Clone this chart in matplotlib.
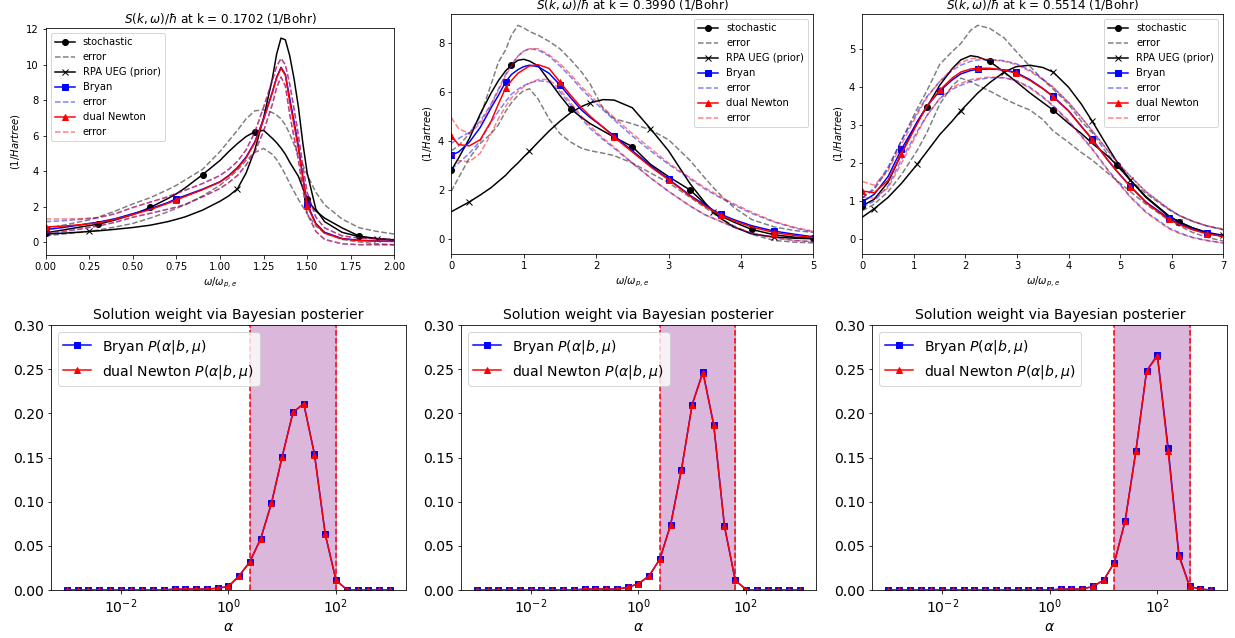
import numpy as np
import matplotlib.pyplot as plt

W, H, DPI = 1235, 638, 72

# ---- k = 0.1702 ----
w1 = [0, 0.1, 0.2, 0.25, 0.3, 0.4, 0.5, 0.6, 0.7, 0.75, 0.8, 0.9, 1.0, 1.05, 1.1, 1.15, 1.2,
      1.25, 1.3, 1.325, 1.35, 1.375, 1.4, 1.425, 1.45, 1.475, 1.5, 1.55, 1.6, 1.7, 1.8, 1.9, 2.0]
stoch1 = [0.52, 0.68, 0.85, 0.93, 1.0, 1.25, 1.55, 1.95, 2.45, 2.72, 3.05, 3.8, 4.6, 5.1, 5.55, 5.95,
          6.22, 6.3, 5.85, 5.6, 5.3, 4.95, 4.5, 4.1, 3.7, 3.05, 2.4, 1.75, 1.35, 0.8, 0.33, 0.2, 0.12]
stoch1_up = [0.75, 0.95, 1.15, 1.25, 1.4, 1.75, 2.15, 2.5, 2.95, 3.2, 3.5, 4.1, 5.1, 5.7, 6.3, 6.95,
             7.4, 7.45, 7.3, 7.15, 6.95, 6.6, 6.1, 5.5, 4.9, 4.35, 3.8, 2.8, 2.1, 1.3, 0.8, 0.6, 0.45]
stoch1_lo = [0.35, 0.45, 0.55, 0.6, 0.68, 0.85, 1.05, 1.35, 1.7, 1.9, 2.1, 2.6, 3.2, 3.6, 4.05, 4.6,
             5.05, 5.28, 4.95, 4.65, 4.25, 3.8, 3.3, 2.85, 2.4, 2.0, 1.6, 0.9, 0.5, 0.15, 0.0, -0.1, -0.15]
rpa1 = [0.45, 0.5, 0.56, 0.6, 0.63, 0.72, 0.82, 0.95, 1.15, 1.28, 1.42, 1.8, 2.3, 2.6, 3.0, 3.9,
        5.2, 7.0, 9.2, 10.6, 11.5, 11.4, 10.5, 9.2, 7.6, 5.6, 3.9, 1.85, 1.15, 0.55, 0.3, 0.18, 0.1]
bryan1 = [0.7, 0.82, 0.97, 1.05, 1.12, 1.32, 1.6, 1.88, 2.22, 2.45, 2.62, 2.98, 3.4, 3.75, 4.2, 4.8,
          5.65, 6.95, 8.45, 9.3, 9.85, 9.45, 8.1, 6.8, 5.4, 3.7, 2.15, 1.05, 0.55, 0.2, 0.1, 0.06, 0.04]
bryan1_up = [1.15, 1.2, 1.28, 1.32, 1.37, 1.6, 1.95, 2.25, 2.55, 2.75, 2.92, 3.3, 3.75, 4.1, 4.55, 5.2,
             6.2, 7.6, 9.1, 9.9, 10.35, 10.0, 8.9, 7.5, 6.0, 4.3, 2.8, 1.4, 0.8, 0.35, 0.22, 0.18, 0.15]
bryan1_lo = [0.45, 0.58, 0.73, 0.82, 0.9, 1.12, 1.4, 1.62, 1.85, 1.97, 2.12, 2.55, 3.02, 3.35, 3.75, 4.35,
             5.1, 6.25, 7.75, 8.7, 9.3, 8.8, 7.2, 5.9, 4.6, 3.0, 1.6, 0.6, 0.15, -0.1, -0.15, -0.15, -0.15]
dn1 = [0.85, 0.9, 0.98, 1.03, 1.08, 1.28, 1.55, 1.83, 2.18, 2.38, 2.57, 2.95, 3.38, 3.72, 4.15, 4.75,
       5.6, 6.9, 8.4, 9.25, 9.8, 9.4, 7.9, 6.6, 5.25, 3.6, 2.05, 1.0, 0.5, 0.18, 0.08, 0.05, 0.03]
dn1_up = [1.3, 1.3, 1.32, 1.35, 1.38, 1.6, 1.95, 2.25, 2.55, 2.75, 2.92, 3.3, 3.75, 4.1, 4.55, 5.2,
          6.2, 7.6, 9.1, 9.9, 10.35, 10.0, 8.9, 7.5, 6.0, 4.3, 2.8, 1.4, 0.8, 0.35, 0.22, 0.18, 0.15]
dn1_lo = [0.55, 0.62, 0.75, 0.83, 0.9, 1.12, 1.4, 1.62, 1.85, 1.97, 2.12, 2.55, 3.02, 3.35, 3.75, 4.35,
          5.1, 6.25, 7.75, 8.7, 9.3, 8.8, 7.2, 5.9, 4.6, 3.0, 1.6, 0.6, 0.15, -0.1, -0.15, -0.15, -0.15]

# ---- k = 0.3990 ----
w2 = [0, 0.1, 0.25, 0.4, 0.55, 0.65, 0.75, 0.83, 0.92, 1.0, 1.08, 1.2, 1.35, 1.5, 1.65, 1.8,
      1.92, 2.1, 2.25, 2.5, 2.75, 3.0, 3.3, 3.5, 3.62, 3.72, 3.9, 4.15, 4.46, 4.75, 5.0]
stoch2 = [2.8, 3.3, 4.1, 5.1, 5.95, 6.45, 6.85, 7.08, 7.28, 7.32, 7.25, 7.05, 6.45, 5.85, 5.3, 4.95,
          4.7, 4.4, 4.15, 3.77, 3.05, 2.55, 2.0, 1.45, 1.15, 0.95, 0.7, 0.4, 0.18, 0.08, 0.04]
stoch2_up = [3.6, 3.8, 4.3, 5.0, 6.3, 7.2, 7.7, 8.3, 8.7, 8.6, 8.45, 8.3, 8.05, 7.75, 7.3, 6.8,
             6.3, 5.3, 4.9, 4.7, 4.45, 4.05, 3.2, 2.5, 2.1, 1.8, 1.3, 0.8, 0.5, 0.35, 0.28]
stoch2_lo = [1.95, 2.5, 3.3, 3.9, 4.3, 4.65, 5.2, 5.55, 5.85, 6.05, 6.12, 5.7, 4.9, 4.3, 3.95, 3.7,
             3.6, 3.5, 3.4, 3.1, 2.7, 2.3, 1.7, 1.3, 1.05, 0.85, 0.55, 0.2, -0.05, -0.12, -0.15]
rpa2 = [1.12, 1.28, 1.52, 1.8, 2.1, 2.35, 2.6, 2.85, 3.1, 3.35, 3.58, 3.95, 4.4, 4.8, 5.15, 5.4,
        5.55, 5.68, 5.66, 5.35, 4.5, 3.6, 2.25, 1.5, 1.1, 0.85, 0.5, 0.22, 0.09, 0.04, 0.02]
bryan2 = [3.42, 3.55, 3.95, 4.55, 5.35, 5.85, 6.4, 6.7, 6.9, 7.02, 7.08, 7.02, 6.75, 6.28, 5.75, 5.25,
          4.95, 4.55, 4.2, 3.6, 3.0, 2.45, 1.78, 1.4, 1.18, 1.02, 0.8, 0.55, 0.33, 0.2, 0.1]
bryan2_up = [3.9, 4.1, 4.35, 4.8, 5.5, 6.1, 6.7, 7.1, 7.45, 7.65, 7.75, 7.7, 7.45, 7.05, 6.6, 6.1,
             5.75, 5.25, 4.85, 4.2, 3.6, 3.05, 2.45, 2.05, 1.85, 1.68, 1.4, 1.05, 0.7, 0.45, 0.3]
bryan2_lo = [2.85, 3.1, 3.5, 4.0, 4.75, 5.2, 5.6, 5.9, 6.1, 6.25, 6.35, 6.45, 6.4, 6.0, 5.45, 4.9,
             4.5, 4.05, 3.7, 3.1, 2.5, 1.95, 1.35, 1.0, 0.85, 0.72, 0.5, 0.25, 0.05, -0.05, -0.1]
dn2 = [4.2, 3.85, 3.8, 4.05, 4.8, 5.5, 6.15, 6.45, 6.75, 6.9, 7.05, 7.1, 6.95, 6.4, 5.85, 5.35,
       5.0, 4.55, 4.15, 3.55, 2.95, 2.42, 1.75, 1.35, 1.15, 0.98, 0.75, 0.5, 0.27, 0.15, 0.07]
dn2_up = [4.95, 4.5, 4.3, 4.7, 5.45, 6.05, 6.65, 7.05, 7.45, 7.65, 7.75, 7.75, 7.5, 7.15, 6.7, 6.2,
          5.85, 5.35, 4.95, 4.3, 3.7, 3.1, 2.5, 2.1, 1.9, 1.72, 1.45, 1.1, 0.72, 0.48, 0.32]
dn2_lo = [3.5, 3.2, 3.15, 3.5, 4.3, 4.9, 5.4, 5.75, 6.0, 6.2, 6.35, 6.5, 6.5, 6.1, 5.55, 5.0,
          4.6, 4.1, 3.75, 3.1, 2.5, 1.95, 1.35, 1.0, 0.85, 0.72, 0.5, 0.25, 0.05, -0.05, -0.1]

# ---- k = 0.5514 ----
w3 = [0, 0.23, 0.5, 0.76, 1.07, 1.25, 1.5, 1.75, 1.91, 2.1, 2.24, 2.47, 2.75, 2.98, 3.25,
      3.5, 3.7, 4.0, 4.25, 4.46, 4.75, 4.93, 5.2, 5.5, 5.94, 6.15, 6.4, 6.68, 7.0]
stoch3 = [0.88, 1.05, 1.5, 2.25, 3.1, 3.47, 4.05, 4.5, 4.72, 4.83, 4.8, 4.68, 4.4, 4.15, 3.85,
          3.6, 3.4, 3.05, 2.78, 2.52, 2.2, 1.96, 1.55, 1.12, 0.62, 0.45, 0.3, 0.17, 0.07]
stoch3_up = [1.1, 1.3, 1.85, 2.6, 3.45, 3.9, 4.6, 4.95, 5.15, 5.5, 5.63, 5.55, 5.3, 4.95, 4.55,
             4.2, 3.95, 3.55, 3.1, 2.8, 2.25, 1.95, 1.55, 1.2, 0.78, 0.62, 0.48, 0.35, 0.25]
stoch3_lo = [0.75, 0.92, 1.25, 1.7, 2.35, 2.8, 3.55, 4.05, 4.24, 4.15, 4.05, 3.9, 3.7, 3.55, 3.4,
             3.15, 2.85, 2.55, 2.28, 2.08, 1.75, 1.55, 1.25, 0.92, 0.5, 0.35, 0.18, 0.05, -0.05]
rpa3 = [0.58, 0.8, 1.1, 1.47, 1.98, 2.3, 2.75, 3.12, 3.38, 3.65, 3.85, 4.12, 4.4, 4.54, 4.58,
        4.52, 4.4, 4.0, 3.55, 3.1, 2.45, 2.05, 1.55, 1.1, 0.6, 0.45, 0.3, 0.18, 0.1]
bryan3 = [0.98, 1.18, 1.65, 2.37, 3.1, 3.5, 3.9, 4.2, 4.35, 4.44, 4.47, 4.48, 4.46, 4.39, 4.2,
          3.97, 3.76, 3.38, 2.97, 2.63, 2.1, 1.8, 1.39, 0.98, 0.55, 0.4, 0.27, 0.16, 0.08]
bryan3_up = [1.08, 1.35, 1.9, 2.6, 3.35, 3.75, 4.15, 4.45, 4.58, 4.68, 4.72, 4.73, 4.7, 4.62, 4.45,
             4.22, 4.0, 3.6, 3.2, 2.85, 2.35, 2.05, 1.65, 1.25, 0.8, 0.62, 0.47, 0.35, 0.25]
bryan3_lo = [0.85, 1.0, 1.4, 2.1, 2.85, 3.25, 3.7, 3.95, 4.05, 4.15, 4.2, 4.25, 4.25, 4.18, 4.0,
             3.75, 3.52, 3.12, 2.72, 2.38, 1.85, 1.55, 1.12, 0.72, 0.3, 0.17, 0.05, -0.03, -0.1]
dn3 = [1.27, 1.22, 1.55, 2.25, 3.05, 3.5, 3.92, 4.25, 4.4, 4.48, 4.5, 4.5, 4.45, 4.37, 4.18,
       3.96, 3.75, 3.37, 2.96, 2.62, 2.1, 1.8, 1.38, 0.96, 0.52, 0.38, 0.25, 0.14, 0.07]
dn3_up = [1.52, 1.42, 1.8, 2.5, 3.3, 3.72, 4.15, 4.5, 4.65, 4.75, 4.77, 4.73, 4.68, 4.6, 4.42,
          4.2, 4.0, 3.6, 3.2, 2.85, 2.35, 2.05, 1.65, 1.25, 0.8, 0.62, 0.47, 0.35, 0.27]
dn3_lo = [1.1, 1.08, 1.35, 2.0, 2.8, 3.25, 3.7, 4.0, 4.1, 4.2, 4.23, 4.27, 4.25, 4.17, 3.98,
          3.73, 3.5, 3.1, 2.7, 2.36, 1.83, 1.53, 1.1, 0.7, 0.28, 0.15, 0.04, -0.04, -0.1]

k_values = ["0.1702", "0.3990", "0.5514"]

# ---- posterior weight over the alpha grid ----
alphas = np.logspace(-3, 3, 31)
post_bryan1 = [0] * 10 + [0.001, 0.001, 0.001, 0.001, 0.002, 0.004, 0.016, 0.032, 0.058, 0.098,
                          0.151, 0.201, 0.211, 0.154, 0.063, 0.011, 0.0005, 0, 0, 0, 0]
post_dn1 = [0] * 10 + [0.001, 0.001, 0.001, 0.001, 0.002, 0.004, 0.016, 0.032, 0.058, 0.098,
                       0.151, 0.201, 0.211, 0.153, 0.063, 0.011, 0.0005, 0, 0, 0, 0]
post_bryan2 = [0] * 10 + [0.001, 0.001, 0.001, 0.001, 0.003, 0.007, 0.016, 0.035, 0.074, 0.136,
                          0.210, 0.247, 0.187, 0.072, 0.011, 0.0005, 0, 0, 0, 0, 0]
post_dn2 = [0] * 10 + [0.001, 0.001, 0.001, 0.001, 0.003, 0.007, 0.016, 0.035, 0.074, 0.136,
                       0.210, 0.246, 0.187, 0.072, 0.011, 0.0005, 0, 0, 0, 0, 0]
post_bryan3 = [0] * 16 + [0.001, 0.001, 0.001, 0.004, 0.011, 0.031, 0.078, 0.157, 0.248, 0.266,
                          0.161, 0.040, 0.004, 0.001, 0]
post_dn3 = [0] * 16 + [0.001, 0.001, 0.001, 0.004, 0.011, 0.031, 0.078, 0.157, 0.248, 0.265,
                       0.157, 0.038, 0.004, 0.001, 0]
# grid index of the lower / upper alpha bound of each window
window_lo = [17, 17, 21]
window_hi = [25, 24, 28]


def px_rect(left, top, right, bottom):
    return [left / W, 1 - bottom / H, (right - left) / W, (bottom - top) / H]


def spectrum_panel(ax, w, curves, k, marks, xmax, ylim, loc):
    stoch, s_up, s_lo, rpa, br, br_up, br_lo, dn, dn_up, dn_lo = curves
    m_s, m_r, m_b = marks
    ax.plot(w, stoch, 'k-o', markevery=m_s, label='stochastic')
    ax.plot(w, s_up, 'k--', alpha=0.5, label='error')
    ax.plot(w, s_lo, 'k--', alpha=0.5)
    ax.plot(w, rpa, 'k-x', markevery=m_r, label='RPA UEG (prior)')
    ax.plot(w, br, 'b-s', markevery=m_b, label='Bryan')
    ax.plot(w, br_up, 'b--', alpha=0.5, label='error')
    ax.plot(w, br_lo, 'b--', alpha=0.5)
    ax.plot(w, dn, 'r-^', markevery=m_b, label='dual Newton')
    ax.plot(w, dn_up, 'r--', alpha=0.5, label='error')
    ax.plot(w, dn_lo, 'r--', alpha=0.5)
    ax.set_xlim(0, xmax)
    ax.set_ylim(*ylim)
    ax.set_title(r'$S(k,\omega)/\hbar$ at k = ' + k + ' (1/Bohr)')
    ax.set_xlabel(r'$\omega/\omega_{p,e}$')
    ax.set_ylabel(r'$(1/Hartree)$')
    ax.legend(loc=loc)


def posterior_panel(ax, post_b, post_d, i_lo, i_hi):
    ax.axvspan(alphas[i_lo], alphas[i_hi], color='purple', alpha=0.28)
    ax.axvline(alphas[i_lo], color='r', ls='--')
    ax.axvline(alphas[i_hi], color='r', ls='--')
    ax.plot(alphas, post_b, 'bs-', label=r'Bryan $P(\alpha|b,\mu)$')
    ax.plot(alphas, post_d, 'r^-', label=r'dual Newton $P(\alpha|b,\mu)$')
    ax.set_xscale('log')
    ax.set_xticks([1e-2, 1e0, 1e2])
    ax.xaxis.set_minor_locator(plt.NullLocator())
    ax.set_ylim(0, 0.30)
    ax.set_yticks(np.arange(0, 0.31, 0.05))
    ax.tick_params(labelsize=14)
    ax.set_xlabel(r'$\alpha$', fontsize=14)
    ax.set_title('Solution weight via Bayesian posterier', fontsize=14)
    ax.legend(loc='upper left', fontsize=14)


fig = plt.figure(figsize=(W / DPI, H / DPI), dpi=DPI)

top_rects = [px_rect(45.7, 28.3, 394.3, 255), px_rect(451.3, 14.3, 813.3, 254),
             px_rect(862.3, 14.3, 1223.3, 254)]
bot_rects = [px_rect(50.7, 325, 406, 590), px_rect(460.7, 325, 816, 590),
             px_rect(872.3, 325, 1227.3, 590)]

ax = fig.add_axes(top_rects[0])
spectrum_panel(ax, w1, (stoch1, stoch1_up, stoch1_lo, rpa1, bryan1, bryan1_up, bryan1_lo,
                        dn1, dn1_up, dn1_lo), k_values[0],
               ([0, 4, 7, 11, 16, 26, 30], [3, 14, 31], [0, 9, 26]),
               2.0, (-0.73, 12.05), 'upper left')
ax.set_xticks(np.arange(0, 2.01, 0.25))

ax = fig.add_axes(top_rects[1])
spectrum_panel(ax, w2, (stoch2, stoch2_up, stoch2_lo, rpa2, bryan2, bryan2_up, bryan2_lo,
                        dn2, dn2_up, dn2_lo), k_values[1],
               ([0, 7, 14, 19, 22, 27, 30], [2, 10, 16, 20, 24, 28], [0, 6, 13, 18, 21, 25, 28]),
               5.0, (-0.6, 9.15), 'upper right')

ax = fig.add_axes(top_rects[2])
spectrum_panel(ax, w3, (stoch3, stoch3_up, stoch3_lo, rpa3, bryan3, bryan3_up, bryan3_lo,
                        dn3, dn3_up, dn3_lo), k_values[2],
               ([0, 5, 11, 16, 21, 25], [1, 4, 8, 12, 16, 19, 22, 25, 28],
                [0, 3, 6, 10, 13, 16, 19, 22, 24, 27]),
               7.0, (-0.39, 5.92), 'upper right')

posts = [(post_bryan1, post_dn1), (post_bryan2, post_dn2), (post_bryan3, post_dn3)]
for i in range(3):
    ax = fig.add_axes(bot_rects[i])
    posterior_panel(ax, posts[i][0], posts[i][1], window_lo[i], window_hi[i])

fig.savefig('out.png', dpi=DPI)
